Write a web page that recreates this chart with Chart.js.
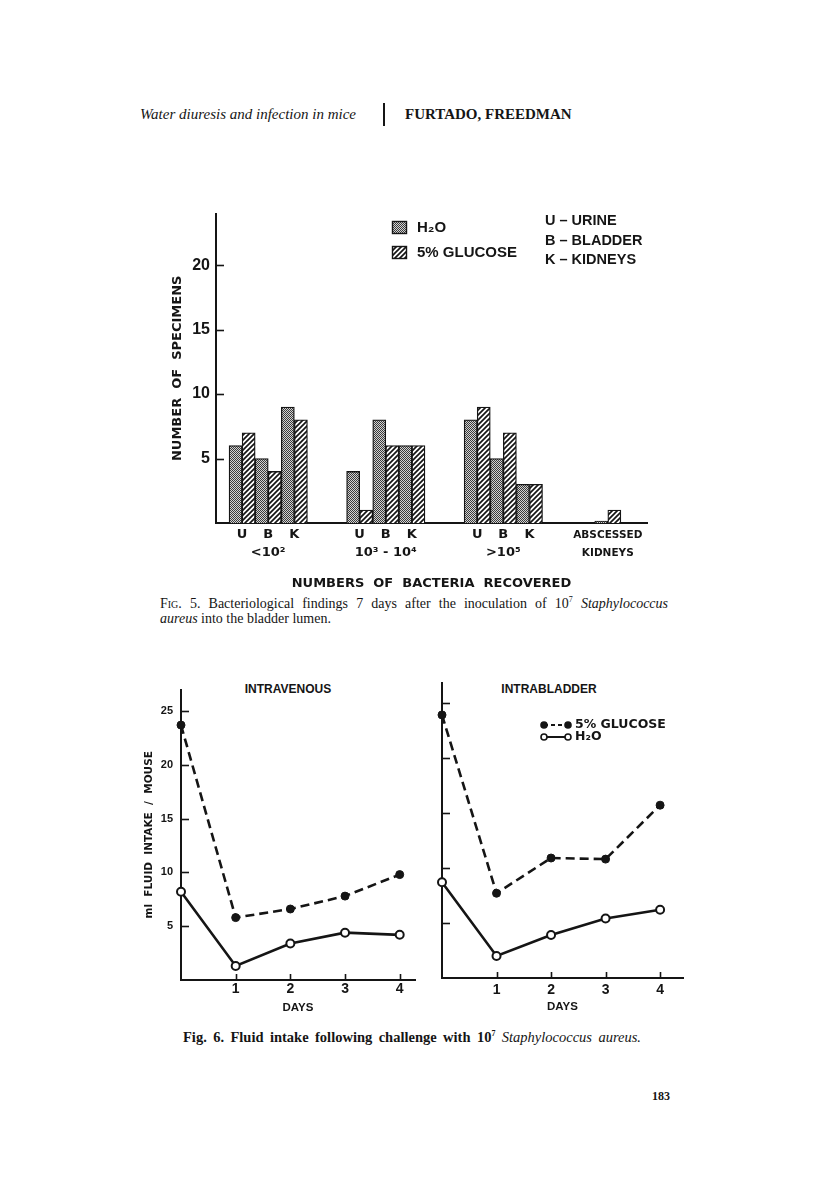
<!DOCTYPE html>
<html>
<head>
<meta charset="utf-8">
<title>Water diuresis and infection in mice - Fig. 5 and 6</title>
<script src="https://cdn.jsdelivr.net/npm/chart.js@4.4.1/dist/chart.umd.min.js"></script>
<style>
  body { margin: 0; background: #fff; }
  #page { position: relative; width: 816px; height: 1195px; background: #fff; color: #151515; overflow: hidden; }
  .txt { position: absolute; white-space: nowrap; line-height: 16px; }
  .serif { font-family: "Liberation Serif", "DejaVu Serif", serif; }
  .label { font-family: "Liberation Sans", Arial, sans-serif; font-weight: bold; }
  .box { position: absolute; }
  .mid { transform: translateX(-50%); }
  sup { font-size: 8px; line-height: 0; }
</style>
</head>
<body>
<div id="page">
  <div class="txt serif" style="left:140px; top:106px; font-size:15px; font-style:italic;">Water diuresis and infection in mice</div>
  <div class="box" style="left:383px; top:103px; width:1.5px; height:23px; background:#151515;"></div>
  <div class="txt serif" style="left:405px; top:106px; font-size:15px; font-weight:bold;">FURTADO, FREEDMAN</div>

  <div class="box" style="left:150px; top:198px; width:510px; height:397px;"><canvas id="fig5"></canvas></div>

  <div class="txt serif" style="left:160px; top:596px; width:508px; font-size:14px; white-space:normal; text-align:justify; text-align-last:justify;"><span style="font-variant:small-caps">Fig.</span> 5. Bacteriological findings 7 days after the inoculation of 10<sup>7</sup> <i>Staphylococcus</i></div>
  <div class="txt serif" style="left:160px; top:611px; font-size:14px;"><i>aureus</i> into the bladder lumen.</div>

  <div class="txt label mid" style="left:288px; top:682px; font-size:12px; line-height:14px;">INTRAVENOUS</div>
  <div class="txt label mid" style="left:549px; top:682px; font-size:12px; line-height:14px;">INTRABLADDER</div>

  <div class="box" style="left:130px; top:675px; width:300px; height:344px;"><canvas id="fig6iv"></canvas></div>
  <div class="box" style="left:420px; top:673px; width:280px; height:345px;"><canvas id="fig6ib"></canvas></div>

  <div class="txt serif" style="left:183px; top:1029px; width:458px; font-size:14.5px; font-weight:bold; white-space:normal; text-align:justify; text-align-last:justify;">Fig. 6. Fluid intake following challenge with 10<sup>7</sup> <i style="font-weight:normal">Staphylococcus aureus.</i></div>

  <div class="txt serif" style="left:652px; top:1088px; font-size:12px; font-weight:bold;">183</div>
</div>

<script>
// Fig. 5: number of specimens by bacteria recovered (U, B, K within each range)
const rangeLabels = ['<10²', '10³ - 10⁴', '>10⁵'];
const siteLabels = ['U', 'B', 'K'];
const waterCounts = [6, 5, 9, 4, 8, 6, 8, 5, 3];
const glucoseCounts = [7, 4, 8, 1, 6, 6, 9, 7, 3];
const abscessedLabel = ['ABSCESSED', 'KIDNEYS'];
const abscessedCounts = [0.15, 1]; // water, glucose
const siteKey = ['U – URINE', 'B – BLADDER', 'K – KIDNEYS'];

// Fig. 6: fluid intake, ml per mouse, by day
const days = [0, 1, 2, 3, 4];
const ivGlucose = [23.7, 5.8, 6.6, 7.8, 9.8];
const ivWater = [8.2, 1.3, 3.4, 4.4, 4.2];
const ibGlucose = [23.9, 7.7, 10.9, 10.8, 15.7];
const ibWater = [8.7, 2.0, 3.9, 5.4, 6.2];

const ink = '#151515';
Chart.defaults.color = ink;
Chart.defaults.font.family = '"Liberation Sans", Arial, sans-serif';

function makePattern(draw, size) {
    var c = document.createElement('canvas');
    c.width = size;
    c.height = size;
    draw(c.getContext('2d'), size);
    return document.createElement('canvas').getContext('2d').createPattern(c, 'repeat');
}

var stipple = makePattern(function (g, n) {
    g.fillStyle = '#d2d2d2';
    g.fillRect(0, 0, n, n);
    g.fillStyle = '#3a3a3a';
    g.fillRect(0, 0, 1, 1);
    g.fillRect(1, 1, 1, 1);
}, 2);

var hatch = makePattern(function (g, n) {
    g.fillStyle = '#fff';
    g.fillRect(0, 0, n, n);
    g.strokeStyle = ink;
    g.lineWidth = 1.7;
    g.beginPath();
    g.moveTo(-1, n + 1); g.lineTo(n + 1, -1);
    g.moveTo(-1, 1); g.lineTo(1, -1);
    g.moveTo(n - 1, n + 1); g.lineTo(n + 1, n - 1);
    g.stroke();
}, 5);

// tick marks pointing into the plot, like the original drawings
var innerTicks = {
    id: 'innerTicks',
    afterDraw: function (chart, args, opts) {
        var ctx = chart.ctx;
        ctx.save();
        ctx.strokeStyle = ink;
        ctx.lineWidth = 1.6;
        Object.keys(chart.scales).forEach(function (id) {
            var len = opts[id];
            var scale = chart.scales[id];
            if (!len) return;
            scale.ticks.forEach(function (t) {
                if (t.value === 0) return;
                var p = Math.round(scale.getPixelForValue(t.value)) + 0.5;
                ctx.beginPath();
                if (scale.isHorizontal()) {
                    ctx.moveTo(p, scale.top);
                    ctx.lineTo(p, scale.top - len);
                } else {
                    ctx.moveTo(scale.right, p);
                    ctx.lineTo(scale.right + len, p);
                }
                ctx.stroke();
            });
        });
        ctx.restore();
    }
};
Chart.register(innerTicks);

// ---- Fig. 5 slots: one bar per category, empty slots make the gaps
var slotLabels = [], waterSlots = [], glucoseSlots = [];
function addSlot(label, water, glucose) {
    slotLabels.push(label);
    waterSlots.push(water);
    glucoseSlots.push(glucose);
}
function addGap(n) {
    for (var i = 0; i < n; i++) addSlot('', null, null);
}

addGap(1);
rangeLabels.forEach(function (range, r) {
    siteLabels.forEach(function (site, s) {
        var k = r * siteLabels.length + s;
        addSlot(s === 1 ? [site, range] : site, waterCounts[k], null);
        addSlot('', null, glucoseCounts[k]);
    });
    addGap(r < rangeLabels.length - 1 ? 3 : 4);
});
var abscessedSlot = slotLabels.length;
addSlot(abscessedLabel, abscessedCounts[0], null);
addSlot('', null, abscessedCounts[1]);
addGap(2);

var fig5Legend = {
    id: 'fig5Legend',
    afterDraw: function (chart) {
        var ctx = chart.ctx;
        var sets = chart.data.datasets;
        ctx.save();
        ctx.textBaseline = 'middle';
        ctx.font = 'bold 15px "Liberation Sans", Arial, sans-serif';
        ctx.lineWidth = 1.4;
        ctx.strokeStyle = ink;
        sets.forEach(function (ds, i) {
            var top = 23 + i * 25;
            ctx.fillStyle = ds.backgroundColor;
            ctx.fillRect(242, top, 15, 13);
            ctx.strokeRect(242.5, top + 0.5, 14, 12);
            ctx.fillStyle = ink;
            ctx.fillText(ds.label, 267, top + 7);
        });
        ctx.font = 'bold 14.5px "Liberation Sans", Arial, sans-serif';
        siteKey.forEach(function (t, i) {
            ctx.fillText(t, 395, 23 + i * 19.5);
        });
        ctx.restore();
    }
};

new Chart(document.getElementById('fig5'), {
    type: 'bar',
    data: {
        labels: slotLabels,
        datasets: [
            {
                label: 'H₂O',
                data: waterSlots,
                backgroundColor: stipple,
                borderColor: ink,
                borderWidth: 1.3
            },
            {
                label: '5% GLUCOSE',
                data: glucoseSlots,
                backgroundColor: hatch,
                borderColor: ink,
                borderWidth: 1.3
            }
        ]
    },
    options: {
        animation: false,
        responsive: true,
        maintainAspectRatio: false,
        devicePixelRatio: 1,
        barPercentage: 1,
        categoryPercentage: 1,
        layout: { padding: { left: 16, top: 10, right: 13, bottom: 0 } },
        scales: {
            x: {
                stacked: true,
                grid: { display: false, drawTicks: false },
                border: { color: ink, width: 2 },
                ticks: {
                    autoSkip: false,
                    maxRotation: 0,
                    minRotation: 0,
                    padding: 3,
                    labelOffset: 6.5,
                    color: ink,
                    font: function (c) {
                        return {
                            family: '"DejaVu Sans", sans-serif',
                            weight: 'bold',
                            size: c.index === abscessedSlot ? 10.5 : 13,
                            lineHeight: '18px'
                        };
                    }
                },
                title: {
                    display: true,
                    text: 'NUMBERS  OF  BACTERIA  RECOVERED',
                    color: ink,
                    font: { family: '"DejaVu Sans", sans-serif', weight: 'bold', size: 13 }
                },
                afterFit: function (s) { s.height = 72; }
            },
            y: {
                stacked: true,
                min: 0,
                max: 24,
                grid: { display: false, drawTicks: false },
                border: { color: ink, width: 2 },
                ticks: {
                    stepSize: 5,
                    includeBounds: false,
                    padding: 6,
                    color: ink,
                    font: { weight: 'bold', size: 16 },
                    callback: function (v) { return v === 0 ? '' : v; }
                },
                title: {
                    display: true,
                    text: 'NUMBER  OF  SPECIMENS',
                    color: ink,
                    font: { family: '"DejaVu Sans", sans-serif', weight: 'bold', size: 13 }
                },
                afterFit: function (s) { s.width = 50; }
            }
        },
        plugins: {
            legend: { display: false },
            tooltip: { enabled: false },
            innerTicks: { y: 8 }
        }
    },
    plugins: [fig5Legend]
});

// ---- Fig. 6
function points(values) {
    return days.map(function (d, i) { return { x: d, y: values[i] }; });
}

var fig6Legend = {
    id: 'fig6Legend',
    afterDraw: function (chart) {
        var ctx = chart.ctx;
        ctx.save();
        ctx.strokeStyle = ink;
        ctx.textBaseline = 'middle';
        ctx.font = 'bold 12.5px "DejaVu Sans", sans-serif';
        chart.data.datasets.forEach(function (ds, i) {
            var y = 52 + i * 12;
            ctx.lineWidth = 2;
            ctx.setLineDash(i === 0 ? [4, 3] : []);
            ctx.beginPath();
            ctx.moveTo(124, y);
            ctx.lineTo(148, y);
            ctx.stroke();
            ctx.setLineDash([]);
            [124, 148].forEach(function (x) {
                ctx.beginPath();
                ctx.arc(x, y, 3, 0, Math.PI * 2);
                ctx.fillStyle = ds.pointBackgroundColor;
                ctx.fill();
                ctx.lineWidth = 1.6;
                ctx.stroke();
            });
            ctx.fillStyle = ink;
            ctx.fillText(ds.label, 155, y);
        });
        ctx.restore();
    }
};

function intakeChart(id, glucose, water, cfg) {
    return new Chart(document.getElementById(id), {
        type: 'line',
        data: {
            datasets: [
                {
                    label: '5% GLUCOSE',
                    data: points(glucose),
                    borderColor: ink,
                    borderWidth: 2.6,
                    borderDash: [9, 5],
                    pointRadius: 4,
                    pointBackgroundColor: ink,
                    pointBorderColor: ink,
                    pointBorderWidth: 1,
                    clip: false
                },
                {
                    label: 'H₂O',
                    data: points(water),
                    borderColor: ink,
                    borderWidth: 2.6,
                    pointRadius: 4,
                    pointBackgroundColor: '#fff',
                    pointBorderColor: ink,
                    pointBorderWidth: 2,
                    clip: false
                }
            ]
        },
        options: {
            animation: false,
            responsive: true,
            maintainAspectRatio: false,
            devicePixelRatio: 1,
            layout: { padding: cfg.padding },
            scales: {
                x: {
                    type: 'linear',
                    min: 0,
                    max: cfg.xMax,
                    grid: { display: false, drawTicks: false },
                    border: { color: ink, width: 2 },
                    ticks: {
                        stepSize: 1,
                        includeBounds: false,
                        padding: cfg.xPad,
                        color: ink,
                        font: { weight: 'bold', size: 14 },
                        callback: function (v) { return v === 0 ? '' : v; }
                    },
                    title: {
                        display: true,
                        text: 'DAYS',
                        color: ink,
                        font: { weight: 'bold', size: 11.5 }
                    },
                    afterFit: function (s) { s.height = cfg.xHeight; }
                },
                y: {
                    min: 0,
                    max: cfg.yMax,
                    grid: { display: false, drawTicks: false },
                    border: { color: ink, width: 2 },
                    ticks: {
                        display: cfg.yLabels,
                        stepSize: 5,
                        includeBounds: false,
                        padding: 8,
                        color: ink,
                        font: { weight: 'bold', size: 11 },
                        callback: function (v) { return v === 0 ? '' : v; }
                    },
                    title: {
                        display: cfg.yLabels,
                        text: 'ml  FLUID  INTAKE  /  MOUSE',
                        color: ink,
                        font: { family: '"DejaVu Sans", sans-serif', weight: 'bold', size: 10.5 }
                    },
                    afterFit: function (s) { s.width = cfg.yWidth; }
                }
            },
            plugins: {
                legend: { display: false },
                tooltip: { enabled: false },
                innerTicks: { x: 6, y: 8 }
            }
        },
        plugins: cfg.legend ? [fig6Legend] : []
    });
}

intakeChart('fig6iv', ivGlucose, ivWater, {
    padding: { left: 9, top: 10, right: 15, bottom: 0 },
    xMax: 4.28, yMax: 27, xPad: 1, xHeight: 39, yWidth: 42, yLabels: true, legend: false
});
intakeChart('fig6ib', ibGlucose, ibWater, {
    padding: { left: 0, top: 10, right: 17, bottom: 0 },
    xMax: 4.42, yMax: 26.8, xPad: 4, xHeight: 40, yWidth: 22, yLabels: false, legend: true
});
</script>
</body>
</html>
